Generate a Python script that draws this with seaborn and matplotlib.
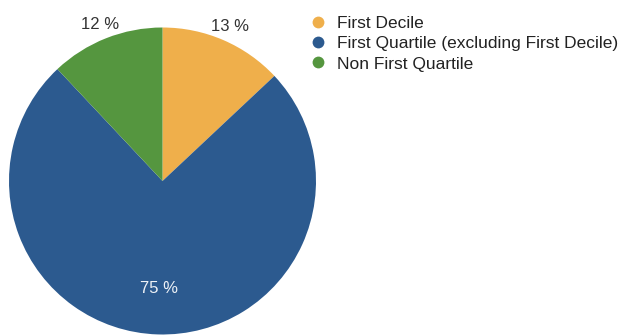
import numpy as np
import seaborn as sns
import matplotlib.pyplot as plt
from matplotlib.lines import Line2D

sns.set_theme(style='white')
plt.rcParams['font.family'] = ['Liberation Sans', 'DejaVu Sans']

labels = ['First Decile', 'First Quartile (excluding First Decile)', 'Non First Quartile']
shares = [13, 75, 12]
pct_labels = ['13 %', '75 %', '12 %']
colors = ['#EFAF4B', '#2C5A8F', '#55963F']

fig = plt.figure(figsize=(6.3, 3.36), dpi=100)
ax = fig.add_axes([9 / 630, 1.5 / 336, 307 / 630, 307 / 336])
wedges, _ = ax.pie(shares, colors=colors, startangle=90, counterclock=False,
                   radius=1, wedgeprops={'linewidth': 0})
ax.set_xlim(-1, 1)
ax.set_ylim(-1, 1)
ax.axis('off')

# percentage labels: small slices outside, big one inside
for w, txt in zip(wedges, pct_labels):
    ang = np.deg2rad((w.theta1 + w.theta2) / 2)
    big = (w.theta2 - w.theta1) > 180
    r = 0.70 if big else 1.1
    ax.text(r * np.cos(ang), r * np.sin(ang), txt, ha='center', va='center',
            fontsize=12, color='#EEF2F7' if big else '#333333', clip_on=False)

handles = [Line2D([], [], marker='o', linestyle='none', markersize=8.5,
                  markerfacecolor=c, markeredgewidth=0) for c in colors]
fig.legend(handles, labels, loc='upper left', bbox_to_anchor=(301 / 630, 1 - 7 / 336),
           frameon=False, fontsize=12.5, labelspacing=0.3, handletextpad=0.6,
           handlelength=1.0, borderpad=0, labelcolor='#222222')

fig.savefig('out.png', dpi=100)
